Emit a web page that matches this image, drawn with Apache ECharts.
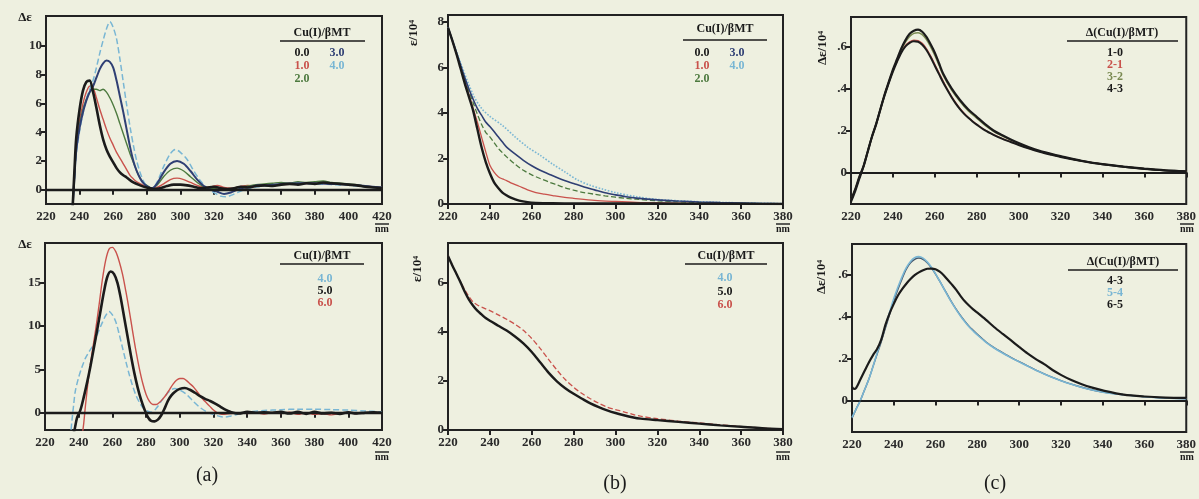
<!DOCTYPE html>
<html><head><meta charset="utf-8">
<script src="https://cdn.jsdelivr.net/npm/echarts@6/dist/echarts.min.js"></script>
<style>html,body{margin:0;padding:0;background:#eef0e0;}#c{width:1199px;height:499px;}</style>
</head><body><div id="c"></div>
<script>
// ---------- DATA (wavelength nm, value) ----------
// Panel (a) top: CD, Δε, Cu(I)/βMT = 0.0 .. 4.0
const aTop00 = [[235,-3],[236,-0.9],[237,1.5],[238,3.6],[240,5.6],[242,6.9],[244,7.5],[246,7.6],[248,6.8],[250,5.7],[252,4.5],[254,3.5],[256,2.8],[258,2.3],[260,1.9],[262,1.5],[264,1.2],[266,1.0],[268,0.85],[272,0.5],[276,0.3],[280,0.15],[284,0.05],[288,0.1],[292,0.25],[296,0.35],[300,0.35],[304,0.3],[308,0.2],[312,0.1],[316,0.15],[320,0.2],[324,0.1],[328,0.05],[332,0.1],[336,0.2],[340,0.15],[345,0.25],[350,0.3],[355,0.25],[360,0.35],[365,0.4],[370,0.35],[375,0.45],[380,0.4],[385,0.5],[390,0.45],[395,0.4],[400,0.35],[405,0.3],[410,0.2],[415,0.15],[420,0.1]];
const aTop10 = [[235,-3],[236,-0.9],[237,1.2],[238,3.0],[240,4.8],[242,6.0],[244,6.8],[246,7.2],[248,7.1],[250,6.4],[252,5.6],[254,4.9],[256,4.2],[258,3.6],[260,3.1],[262,2.6],[264,2.2],[266,1.8],[268,1.4],[270,1.0],[272,0.75],[274,0.55],[278,0.3],[282,0.1],[286,0.15],[290,0.4],[294,0.7],[298,0.8],[302,0.7],[306,0.5],[310,0.3],[314,0.15],[318,0.2],[322,0.3],[326,0.15],[330,0.1],[335,0.2],[340,0.3],[345,0.25],[350,0.3],[360,0.35],[370,0.4],[380,0.45],[390,0.4],[400,0.35],[410,0.25],[420,0.15]];
const aTop20 = [[235,-3],[236,-0.9],[237,1.0],[238,2.8],[240,4.5],[242,5.6],[244,6.3],[246,6.8],[248,7.0],[250,7.0],[252,6.9],[254,7.0],[256,6.8],[258,6.4],[260,5.9],[262,5.3],[264,4.6],[266,3.9],[268,3.2],[270,2.5],[272,1.9],[274,1.3],[276,0.8],[278,0.5],[280,0.3],[283,0.1],[286,0.3],[290,0.9],[294,1.35],[298,1.5],[302,1.3],[306,0.9],[310,0.5],[314,0.2],[318,0.1],[322,0.05],[326,-0.05],[330,0.0],[335,0.15],[340,0.25],[345,0.35],[350,0.4],[355,0.45],[360,0.5],[365,0.45],[370,0.55],[375,0.5],[380,0.55],[385,0.6],[390,0.5],[395,0.45],[400,0.4],[405,0.35],[410,0.25],[415,0.2],[420,0.15]];
const aTop30 = [[235,-3],[236,-0.9],[237,1.0],[238,2.7],[240,4.3],[242,5.4],[244,6.2],[246,6.8],[248,7.2],[250,7.8],[252,8.4],[254,8.8],[256,9.0],[258,8.9],[260,8.5],[262,7.6],[264,6.5],[266,5.4],[268,4.2],[270,3.0],[272,2.0],[274,1.3],[276,0.8],[278,0.45],[280,0.25],[283,0.1],[286,0.4],[290,1.2],[294,1.8],[298,2.0],[302,1.8],[306,1.3],[310,0.7],[314,0.25],[318,0.0],[322,-0.15],[326,-0.3],[330,-0.2],[334,0.0],[338,0.15],[342,0.2],[346,0.3],[350,0.3],[355,0.35],[360,0.4],[370,0.45],[380,0.45],[390,0.4],[400,0.35],[410,0.25],[420,0.15]];
const aTop40 = [[235,-3],[236,-0.9],[237,0.9],[238,2.5],[240,4.1],[242,5.3],[244,6.3],[246,7.0],[248,7.6],[250,8.5],[252,9.5],[254,10.4],[256,11.2],[258,11.7],[260,11.3],[262,10.5],[264,9.1],[266,7.5],[268,5.9],[270,4.4],[272,3.1],[274,2.0],[276,1.2],[278,0.6],[280,0.25],[283,0.05],[286,0.5],[290,1.6],[294,2.5],[297,2.8],[300,2.6],[304,2.1],[308,1.3],[312,0.6],[316,0.1],[320,-0.2],[324,-0.45],[327,-0.5],[330,-0.4],[334,-0.2],[338,0.0],[342,0.1],[346,0.2],[350,0.25],[355,0.3],[360,0.35],[370,0.4],[380,0.4],[390,0.35],[400,0.3],[410,0.2],[420,0.1]];
// Panel (a) bottom: CD, Cu(I)/βMT = 4.0 (same as above), 5.0, 6.0
const aBot50 = [[236,-3],[237.5,-2],[239,-0.6],[241,0.3],[243,1.8],[245,3.5],[247,5.4],[249,7.5],[251,9.6],[253,11.8],[255,14.0],[257,15.7],[259,16.3],[261,16.0],[263,15.0],[265,13.2],[267,11.0],[269,8.8],[271,6.6],[273,4.6],[275,2.9],[277,1.5],[279,0.4],[281,-0.5],[283,-0.95],[285,-1.0],[287,-0.8],[289,-0.3],[291,0.5],[293,1.4],[295,2.0],[297,2.4],[300,2.75],[303,2.85],[306,2.65],[309,2.3],[312,1.9],[315,1.6],[318,1.35],[321,1.05],[324,0.7],[327,0.35],[330,0.1],[335,-0.1],[340,0.1],[345,0.0],[350,0.05],[355,0.0],[360,0.1],[365,-0.1],[370,0.1],[375,-0.15],[380,0.1],[385,-0.1],[390,0.0],[395,-0.15],[400,0.05],[405,-0.1],[410,0.0],[415,0.05],[420,0.0]];
const aBot60 = [[241,-3],[242.5,-2],[244,0.8],[246,4.3],[248,7.0],[250,9.5],[252,12.3],[254,15.3],[256,17.6],[258,18.9],[260,19.1],[262,18.6],[264,17.5],[266,16.0],[268,14.0],[270,11.8],[272,9.4],[274,7.1],[276,5.1],[278,3.4],[280,2.1],[282,1.3],[284,0.95],[286,0.95],[288,1.2],[290,1.6],[292,2.1],[294,2.7],[296,3.3],[298,3.75],[300,3.95],[302,3.95],[304,3.7],[306,3.35],[308,3.0],[310,2.5],[312,2.0],[314,1.5],[316,1.1],[318,0.7],[320,0.3],[322,0.0],[325,-0.2],[330,-0.1],[335,0.0],[340,-0.1],[345,0.0],[350,-0.15],[355,0.0],[360,-0.1],[365,0.05],[370,-0.2],[375,0.0],[380,-0.2],[385,-0.1],[390,-0.25],[395,-0.1],[400,-0.05],[405,-0.1],[410,0.0],[415,-0.05],[420,0.0]];
// Panel (b) top: absorption ε/10^4
const bTop00 = [[220,7.75],[222,7.2],[224,6.6],[226,5.95],[228,5.3],[230,4.7],[232,4.1],[234,3.3],[236,2.5],[238,1.85],[240,1.35],[242,0.95],[244,0.7],[246,0.5],[248,0.38],[250,0.28],[254,0.15],[258,0.08],[262,0.05],[270,0.03],[280,0.02],[300,0.02],[320,0.02],[340,0.01],[360,0.01],[380,0.0]];
const bTop10 = [[220,7.75],[222,7.2],[224,6.6],[226,6.0],[228,5.4],[230,4.8],[232,4.2],[234,3.6],[236,2.95],[238,2.3],[240,1.7],[242,1.4],[244,1.2],[246,1.1],[248,1.03],[250,0.93],[254,0.78],[258,0.62],[262,0.5],[266,0.43],[270,0.37],[275,0.3],[280,0.25],[290,0.16],[300,0.11],[310,0.07],[320,0.05],[340,0.03],[360,0.02],[380,0.01]];
const bTop20 = [[220,7.75],[222,7.2],[224,6.6],[226,6.05],[228,5.5],[230,4.95],[232,4.45],[234,3.95],[236,3.5],[238,3.15],[240,2.95],[242,2.7],[244,2.45],[246,2.25],[248,2.07],[252,1.75],[256,1.48],[260,1.28],[264,1.12],[268,0.97],[272,0.84],[276,0.71],[280,0.61],[285,0.5],[290,0.43],[295,0.36],[300,0.3],[305,0.25],[310,0.21],[320,0.14],[330,0.1],[340,0.07],[350,0.05],[360,0.03],[370,0.02],[380,0.01]];
const bTop30 = [[220,7.75],[222,7.2],[224,6.65],[226,6.1],[228,5.55],[230,5.05],[232,4.6],[234,4.2],[236,3.9],[238,3.6],[240,3.4],[242,3.18],[244,2.95],[246,2.72],[248,2.5],[252,2.2],[256,1.92],[260,1.68],[264,1.48],[268,1.32],[272,1.16],[276,1.02],[280,0.9],[285,0.75],[290,0.62],[295,0.49],[300,0.4],[305,0.32],[310,0.26],[320,0.18],[330,0.13],[340,0.09],[350,0.06],[360,0.04],[370,0.02],[380,0.01]];
const bTop40 = [[220,7.75],[226,6.2],[232,4.8],[236,4.2],[240,3.85],[246,3.45],[252,2.95],[258,2.5],[264,2.14],[270,1.75],[276,1.4],[282,1.05],[288,0.82],[294,0.65],[300,0.5],[310,0.32],[320,0.2],[340,0.1],[360,0.05],[380,0.02]];
// Panel (b) bottom: 5.0, 6.0
const bBot50 = [[220,7.07],[222,6.7],[224,6.35],[226,6.0],[228,5.62],[230,5.3],[232,5.05],[234,4.85],[236,4.7],[238,4.55],[240,4.44],[244,4.24],[248,4.04],[252,3.8],[256,3.52],[260,3.17],[264,2.75],[268,2.33],[272,1.98],[276,1.7],[280,1.47],[284,1.27],[288,1.08],[292,0.93],[296,0.8],[300,0.69],[304,0.6],[308,0.52],[312,0.46],[320,0.4],[330,0.33],[340,0.26],[350,0.19],[360,0.13],[370,0.07],[380,0.03]];
const bBot60 = [[220,7.07],[222,6.7],[224,6.35],[226,6.02],[228,5.7],[230,5.42],[232,5.2],[234,5.08],[236,5.0],[238,4.92],[240,4.85],[244,4.68],[248,4.5],[252,4.3],[256,4.05],[260,3.72],[264,3.32],[268,2.87],[272,2.44],[276,2.05],[280,1.74],[284,1.48],[288,1.27],[292,1.09],[296,0.93],[300,0.83],[304,0.74],[308,0.64],[312,0.56],[320,0.46],[330,0.36],[340,0.29],[350,0.21],[360,0.14],[370,0.08],[380,0.03]];
// Panel (c) top: difference spectra Δε/10^4
const cTop10 = [[220,-0.13],[222,-0.08],[224,-0.02],[226,0.03],[228,0.1],[230,0.17],[232,0.23],[234,0.3],[236,0.37],[238,0.43],[240,0.49],[242,0.54],[244,0.59],[246,0.63],[248,0.66],[250,0.675],[252,0.68],[254,0.67],[256,0.645],[258,0.61],[260,0.57],[262,0.52],[264,0.47],[268,0.4],[272,0.345],[276,0.3],[280,0.265],[284,0.23],[288,0.2],[292,0.178],[296,0.158],[300,0.14],[305,0.12],[310,0.103],[315,0.09],[320,0.078],[330,0.056],[340,0.04],[350,0.028],[360,0.018],[370,0.01],[380,0.005]];
const cTop21 = [[220,-0.13],[222,-0.08],[224,-0.02],[226,0.03],[228,0.1],[230,0.17],[232,0.23],[234,0.3],[236,0.37],[238,0.43],[240,0.485],[242,0.53],[244,0.575],[246,0.605],[248,0.622],[250,0.63],[252,0.628],[254,0.615],[256,0.59],[258,0.555],[260,0.515],[262,0.475],[264,0.435],[266,0.397],[268,0.362],[270,0.332],[272,0.305],[274,0.282],[276,0.262],[278,0.245],[280,0.23],[284,0.202],[288,0.18],[292,0.162],[296,0.147],[300,0.132],[305,0.115],[310,0.1],[315,0.087],[320,0.075],[330,0.055],[340,0.04],[350,0.028],[360,0.018],[370,0.01],[380,0.005]];
const cTop32 = [[220,-0.13],[222,-0.08],[224,-0.02],[226,0.03],[228,0.1],[230,0.17],[232,0.23],[234,0.3],[236,0.37],[238,0.43],[240,0.488],[242,0.537],[244,0.583],[246,0.62],[248,0.647],[250,0.662],[252,0.665],[254,0.656],[256,0.633],[258,0.598],[260,0.557],[262,0.51],[264,0.462],[268,0.392],[272,0.338],[276,0.293],[280,0.258],[284,0.224],[288,0.196],[292,0.174],[296,0.155],[300,0.138],[305,0.118],[310,0.101],[315,0.088],[320,0.076],[330,0.055],[340,0.04],[350,0.028],[360,0.018],[370,0.01],[380,0.005]];
const cTop43 = [[220,-0.14],[222,-0.09],[224,-0.03],[226,0.03],[228,0.1],[230,0.17],[232,0.23],[234,0.3],[236,0.365],[238,0.425],[240,0.48],[242,0.528],[244,0.57],[246,0.6],[248,0.617],[250,0.624],[252,0.622],[254,0.608],[256,0.583],[258,0.548],[260,0.508],[262,0.468],[264,0.428],[266,0.392],[268,0.358],[270,0.328],[272,0.302],[274,0.279],[276,0.26],[278,0.243],[280,0.228],[284,0.2],[288,0.179],[292,0.161],[296,0.146],[300,0.131],[305,0.114],[310,0.099],[315,0.086],[320,0.074],[330,0.055],[340,0.039],[350,0.027],[360,0.017],[370,0.01],[380,0.005]];
// Panel (c) bottom: 4-3, 5-4, 6-5
const cBot43 = [[220,-0.085],[222,-0.04],[224,0.0],[226,0.05],[228,0.1],[230,0.16],[232,0.22],[234,0.28],[236,0.345],[238,0.41],[240,0.475],[242,0.53],[244,0.58],[246,0.625],[248,0.655],[250,0.672],[252,0.678],[254,0.672],[256,0.656],[258,0.632],[260,0.602],[262,0.568],[264,0.533],[266,0.498],[268,0.464],[270,0.433],[272,0.404],[274,0.378],[276,0.354],[278,0.334],[280,0.315],[284,0.28],[288,0.252],[292,0.228],[296,0.205],[300,0.185],[304,0.165],[308,0.145],[312,0.127],[316,0.11],[320,0.095],[325,0.078],[330,0.063],[335,0.05],[340,0.04],[350,0.028],[360,0.018],[370,0.012],[380,0.008]];
const cBot54 = [[220,-0.08],[222,-0.04],[224,0.0],[226,0.05],[228,0.1],[230,0.16],[232,0.225],[234,0.29],[236,0.355],[238,0.42],[240,0.485],[242,0.54],[244,0.59],[246,0.632],[248,0.662],[250,0.68],[252,0.685],[254,0.678],[256,0.66],[258,0.635],[260,0.603],[262,0.568],[264,0.532],[266,0.496],[268,0.462],[270,0.43],[272,0.401],[274,0.375],[276,0.351],[278,0.331],[280,0.312],[284,0.278],[288,0.25],[292,0.226],[296,0.204],[300,0.184],[304,0.164],[308,0.144],[312,0.126],[316,0.109],[320,0.094],[325,0.077],[330,0.062],[335,0.05],[340,0.04],[350,0.027],[360,0.018],[370,0.012],[380,0.008]];
const cBot65 = [[220,0.065],[221,0.055],[222,0.06],[224,0.1],[226,0.14],[228,0.18],[230,0.215],[232,0.245],[234,0.29],[236,0.36],[238,0.415],[240,0.46],[242,0.5],[244,0.53],[246,0.556],[248,0.578],[250,0.597],[252,0.61],[254,0.62],[256,0.627],[258,0.628],[260,0.625],[262,0.613],[264,0.595],[266,0.572],[268,0.55],[270,0.525],[272,0.497],[274,0.472],[276,0.452],[278,0.434],[280,0.418],[284,0.385],[288,0.35],[292,0.318],[296,0.287],[300,0.255],[304,0.224],[308,0.197],[312,0.173],[316,0.145],[320,0.122],[325,0.097],[330,0.077],[335,0.061],[340,0.048],[350,0.028],[360,0.019],[370,0.014],[380,0.012]];

// axis ranges and tick values
const xTicksA = [220,420];           // min/max (interval 20)
const xTicksBC = [220,380];
const yTicksATop = [0,2,4,6,8,10];
const yTicksABot = [0,5,10,15];
const yTicksBTop = [0,2,4,6,8];
const yTicksBBot = [0,2,4,6];
const yTicksC = [0,0.2,0.4,0.6];

// ---------- CHART ----------
const FONT = '"Liberation Serif","DejaVu Serif",serif';
const C = {k:'#1b1b1b', r:'#c9524c', g:'#4d7a3f', n:'#2f3f74', lb:'#79b6d4', o:'#7a8a52', gb:'#44556a'};
const grids=[], xAxes=[], yAxes=[], series=[];
function panel(box, xr, yMin, yMax, yTicks, fmt){
  const i = grids.length;
  grids.push({left:box[0], top:box[1], width:box[2], height:box[3], show:true, borderWidth:2, borderColor:'#222', backgroundColor:'transparent'});
  xAxes.push({type:'value', gridIndex:i, min:xr[0], max:xr[1], interval:20,
    axisLine:{show:true, lineStyle:{color:'#222', width:2}}, splitLine:{show:false},
    axisTick:{show:true, length:5, lineStyle:{color:'#222', width:2}},
    axisLabel:{fontFamily:FONT, fontWeight:'bold', fontSize:13, color:'#2a2a2a', margin:6}});
  yAxes.push({type:'value', gridIndex:i, min:yMin, max:yMax,
    axisLine:{show:true, onZero:false, lineStyle:{color:'#222', width:2}}, splitLine:{show:false},
    axisTick:{show:true, length:5, customValues:yTicks, lineStyle:{color:'#222', width:2}},
    axisLabel:{customValues:yTicks, fontFamily:FONT, fontWeight:'bold', fontSize:13, color:'#2a2a2a', margin:4, formatter:fmt}});
  return i;
}
function line(i, data, color, width, type, zero){
  const s = {type:'line', xAxisIndex:i, yAxisIndex:i, data:data, symbol:'none', smooth:0.3, clip:true,
    lineStyle:{color:color, width:width, type:type||'solid'}, z: width>2?3:2};
  if(zero){ s.markLine={silent:true, symbol:['none','none'], label:{show:false}, animation:false,
    lineStyle:{color:'#1b1b1b', width:zero, type:'solid'}, data:[{yAxis:0}]}; }
  series.push(s);
}
const fmtPlain = v => String(v);
const fmtDot = v => v===0 ? '0' : '.' + Math.round(v*10);

const pA1 = panel([46,16,336,188], xTicksA, -1, 12.1, yTicksATop, fmtPlain);
const pB1 = panel([448,15,335,189], xTicksBC, 0, 8.3, yTicksBTop, fmtPlain);
const pC1 = panel([851,17,336,187], xTicksBC, -0.15, 0.74, yTicksC, fmtDot);
const pA2 = panel([45,243,337,187], xTicksA, -2, 19.6, yTicksABot, fmtPlain);
const pB2 = panel([448,243,335,187], xTicksBC, 0, 7.6, yTicksBBot, fmtPlain);
const pC2 = panel([852,244,335,188], xTicksBC, -0.15, 0.745, yTicksC, fmtDot);

line(pA1, aTop10, C.r, 1.4, null, 2.4);
line(pA1, aTop20, C.g, 1.4);
line(pA1, aTop40, C.lb, 1.5, 'dashed');
line(pA1, aTop30, C.n, 2.0);
line(pA1, aTop00, C.k, 2.6);

line(pB1, bTop10, C.r, 1.3);
line(pB1, bTop20, C.g, 1.3, 'dashed');
line(pB1, bTop40, C.lb, 1.6, 'dotted');
line(pB1, bTop30, C.n, 1.6);
line(pB1, bTop00, C.k, 2.4);

line(pC1, cTop21, C.r, 1.3, null, 1.6);
line(pC1, cTop32, C.o, 1.4);
line(pC1, cTop43, C.k, 2.0);
line(pC1, cTop10, C.k, 2.2);

line(pA2, aTop40, C.lb, 1.5, 'dashed', 2.4);
line(pA2, aBot60, C.r, 1.4);
line(pA2, aBot50, C.k, 2.6);

line(pB2, bBot60, C.r, 1.3, 'dashed');
line(pB2, bBot50, C.k, 2.4);

line(pC2, cBot43, C.gb, 1.4, null, 1.6);
line(pC2, cBot54, C.lb, 1.6);
line(pC2, cBot65, C.k, 2.2);

// ---------- TEXT (titles, legends) ----------
const G = [];
function txt(x,y,t,opt){ opt=opt||{};
  G.push({type:'text', x:x, y:y, rotation:opt.rot||0, z:10, style:{text:t, fill:opt.c||'#1b1b1b',
    font:(opt.w||'bold')+' '+(opt.s||12)+'px '+FONT, textAlign:opt.a||'center', textVerticalAlign:'middle'}}); }
function hline(x1,x2,y){ G.push({type:'line', z:10, shape:{x1:x1,y1:y,x2:x2,y2:y}, style:{stroke:'#1b1b1b', lineWidth:1.4}}); }

// y-axis titles
txt(25,18,'Δε',{s:13});
txt(25,245,'Δε',{s:13});
txt(414,33,'ε/10⁴',{s:13, rot:Math.PI/2});
txt(418,269,'ε/10⁴',{s:13, rot:Math.PI/2});
txt(823,48,'Δε/10⁴',{s:13, rot:Math.PI/2});
txt(822,277,'Δε/10⁴',{s:13, rot:Math.PI/2});
// nm units
[[382,229],[783,229],[1187,229],[382,457],[783,457],[1187,457]].forEach(p=>{ txt(p[0],p[1],'nm',{s:10}); hline(p[0]-7,p[0]+7,p[1]-5); });

// legends
txt(322,33,'Cu(I)/βMT'); hline(280,365,41);
txt(302,53,'0.0',{c:C.k}); txt(337,53,'3.0',{c:C.n});
txt(302,66,'1.0',{c:C.r}); txt(337,66,'4.0',{c:C.lb});
txt(302,79,'2.0',{c:C.g});

txt(725,29,'Cu(I)/βMT'); hline(683,767,40);
txt(702,53,'0.0',{c:C.k}); txt(737,53,'3.0',{c:C.n});
txt(702,66,'1.0',{c:C.r}); txt(737,66,'4.0',{c:C.lb});
txt(702,79,'2.0',{c:C.g});

txt(1122,33,'Δ(Cu(I)/βMT)'); hline(1067,1178,41);
txt(1115,53,'1-0',{c:C.k}); txt(1115,65,'2-1',{c:C.r});
txt(1115,77,'3-2',{c:C.o}); txt(1115,89,'4-3',{c:C.k});

txt(322,256,'Cu(I)/βMT'); hline(280,364,264);
txt(325,279,'4.0',{c:C.lb}); txt(325,291,'5.0',{c:C.k}); txt(325,303,'6.0',{c:C.r});

txt(726,256,'Cu(I)/βMT'); hline(685,767,264);
txt(725,278,'4.0',{c:C.lb}); txt(725,292,'5.0',{c:C.k}); txt(725,305,'6.0',{c:C.r});

txt(1123,262,'Δ(Cu(I)/βMT)'); hline(1068,1178,270);
txt(1115,281,'4-3',{c:C.k}); txt(1115,293,'5-4',{c:C.lb}); txt(1115,305,'6-5',{c:C.k});

// panel letters
txt(207,476,'(a)',{w:'normal', s:20});
txt(615,484,'(b)',{w:'normal', s:20});
txt(995,484,'(c)',{w:'normal', s:20});

const chart = echarts.init(document.getElementById('c'), null, {renderer:'canvas'});
chart.setOption({backgroundColor:'#eef0e0', animation:false, grid:grids, xAxis:xAxes, yAxis:yAxes, series:series, graphic:G});
</script></body></html>
